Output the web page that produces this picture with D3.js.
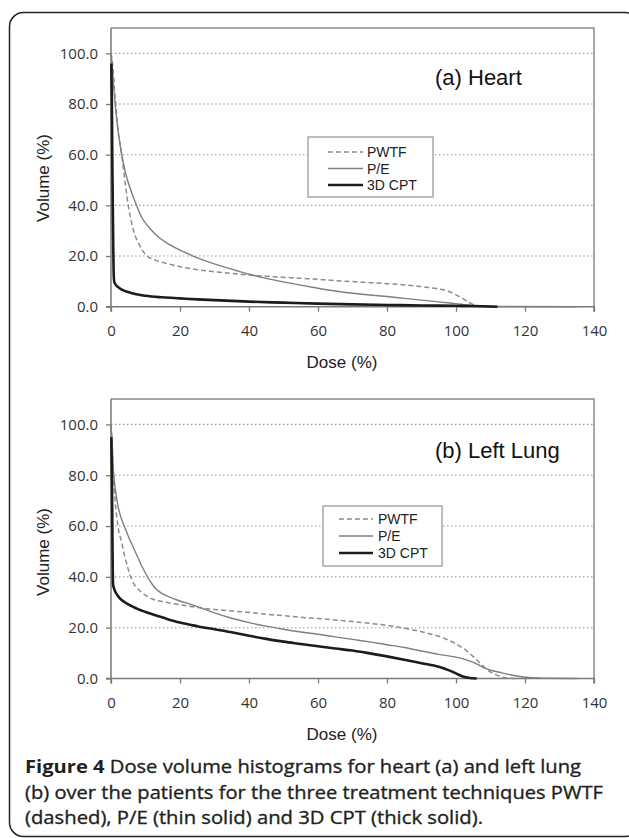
<!DOCTYPE html>
<html>
<head>
<meta charset="utf-8">
<script src="https://cdn.jsdelivr.net/npm/d3@7"></script>
<style>
  html, body { margin: 0; padding: 0; background: #fff; }
  svg { display: block; }
</style>
</head>
<body>
<svg id="chart" width="629" height="838"></svg>
<script>
// ---------------- DATA ----------------
const seriesNames = ["PWTF", "P/E", "3D CPT"];
const doseTicks = [0, 20, 40, 60, 80, 100, 120, 140];
const volumeTicks = [0, 20, 40, 60, 80, 100];
const panelTitles = ["(a) Heart", "(b) Left Lung"];

// [dose %, volume %]
const heartPWTF = [[0,100],[0.5,95],[1,86],[1.5,78],[2,70],[3,61],[4,50],[5,40],[6,33],[7,28],[8,25],[9,22.5],[10,20.6],[11,19.5],[13,18.3],[16,17.1],[20,15.8],[25,14.6],[30,13.8],[35,13.1],[40,12.5],[45,12],[50,11.6],[55,11.2],[60,10.8],[65,10.3],[70,9.9],[75,9.5],[80,9.1],[85,8.6],[90,7.9],[95,7.0],[98,6.0],[100,4.7],[102,3.2],[104,1.5],[106,0.4],[108,0.1],[110,0]];
const heartPE = [[0,100],[0.3,96],[0.7,88],[1.2,80],[2,70],[3,61],[4,54],[5,49],[6,45],[7.4,40],[9,35],[10.3,32.5],[12,29.8],[14.2,27],[17,24.5],[20,22.3],[23.8,20],[28,17.8],[32,16],[36,14.4],[40,12.8],[45,11.2],[50,9.8],[55,8.5],[60,7.3],[65,6.2],[70,5.3],[75,4.6],[80,4],[85,3.3],[90,2.6],[95,1.9],[100,1.2],[103,0.7],[106,0.3],[110,0.1],[135,0]];
const heart3DCPT = [[0.1,96],[0.25,80],[0.4,55],[0.6,30],[0.8,12],[1,9.5],[2,7.8],[3,6.8],[5,5.8],[7,5],[10,4.3],[15,3.7],[20,3.3],[25,2.9],[30,2.6],[40,2.0],[50,1.6],[60,1.2],[70,0.9],[80,0.7],[90,0.5],[100,0.35],[105,0.25],[110,0.05],[112,0]];

const lungPWTF = [[0,100],[0.3,93],[0.7,80],[1.2,70],[2,60],[3,54],[4,48],[5,43],[6,39],[7,36.5],[8,35],[9,33.8],[10,32.8],[12,31.3],[15,30.2],[18,29.5],[22,28.6],[26,27.8],[30,27.2],[35,26.6],[40,26],[45,25.3],[50,24.7],[55,24.1],[60,23.6],[65,23],[70,22.4],[75,21.7],[80,20.9],[85,19.8],[90,18.4],[95,16.6],[98,15],[100,13.6],[103,11],[105,8.6],[107,6],[109,3.5],[111,1.8],[113,0.7],[115,0.2],[118,0]];
const lungPE = [[0,100],[0.3,93],[0.7,82],[1.2,75],[2,68],[3,63],[4,59.5],[5,56],[6,53],[7,50],[8,47],[9,44],[10,41.5],[11,39],[12,37],[13,35.3],[15,33.3],[17,32],[20,30.5],[24,28.8],[27,27.3],[30,25.8],[35,23.7],[40,22],[45,20.6],[50,19.4],[55,18.3],[60,17.4],[65,16.4],[70,15.4],[75,14.4],[80,13.3],[85,12.2],[90,10.8],[95,9.5],[100,8.4],[103,7.3],[106,5.8],[108,4.3],[110,3.3],[113,2.3],[116,1.4],[119,0.7],[122,0.3],[125,0.1],[135,0]];
const lung3DCPT = [[0.1,95],[0.3,75],[0.45,50],[0.6,37],[1,35],[2,32.5],[4,30],[6,28.5],[8,27.2],[10,26.2],[15,24],[20,22],[25,20.6],[30,19.4],[35,18.2],[40,16.8],[45,15.6],[50,14.5],[55,13.6],[60,12.7],[65,11.8],[70,11],[75,9.9],[80,8.7],[85,7.4],[90,6],[95,4.6],[98,3.2],[100,2],[102,0.8],[104,0.2],[106,0]];

const captionBold = "Figure 4";
const captionLines = [
  " Dose volume histograms for heart (a) and left lung",
  "(b) over the patients for the three treatment techniques PWTF",
  "(dashed), P/E (thin solid) and 3D CPT (thick solid)."
];
const captionWidths = [556, 578, 458];

// ---------------- STYLE ----------------
const seriesStyle = [
  { stroke: "#8c8c8c", width: 1.5, dash: "5,3" },
  { stroke: "#7f7f7f", width: 1.4, dash: null },
  { stroke: "#1c1c1c", width: 2.6, dash: null }
];

const svg = d3.select("#chart");

// outer rounded frame
svg.append("rect")
  .attr("x", 9.5).attr("y", 12.5)
  .attr("width", 630).attr("height", 824)
  .attr("rx", 14).attr("ry", 14)
  .attr("fill", "none").attr("stroke", "#222").attr("stroke-width", 1.5);

const panels = [
  { top: 28, bottom: 306.7, series: [heartPWTF, heartPE, heart3DCPT], title: panelTitles[0], titleY: 85,
    legend: { x: 308, y: 137, w: 125, h: 60, sx0: 328, sx1: 363, tx: 367, rows: [157, 173.5, 190] },
    yLabelY: 178 },
  { top: 399, bottom: 678.5, series: [lungPWTF, lungPE, lung3DCPT], title: panelTitles[1], titleY: 458,
    legend: { x: 323, y: 506, w: 119, h: 60, sx0: 339, sx1: 373, tx: 378, rows: [524, 541, 558] },
    yLabelY: 552 }
];

const left = 111, right = 594;

panels.forEach(p => {
  const x = d3.scaleLinear().domain([0, 140]).range([left, right]);
  const y = d3.scaleLinear().domain([0, 110]).range([p.bottom, p.top]);
  const g = svg.append("g");

  // gridlines
  g.selectAll(".grid").data(volumeTicks.filter(v => v > 0)).enter().append("line")
    .attr("x1", left).attr("x2", right)
    .attr("y1", d => y(d)).attr("y2", d => y(d))
    .attr("stroke", "#9a9a9a").attr("stroke-width", 1.1)
    .attr("stroke-dasharray", "1.5,2.5");

  // plot frame (top & right)
  g.append("path")
    .attr("d", `M${left},${p.top}H${right}V${p.bottom}`)
    .attr("fill", "none").attr("stroke", "#8a8a8a").attr("stroke-width", 1.5);

  // axes
  const yAxis = d3.axisLeft(y).tickValues(volumeTicks).tickFormat(d3.format(".1f")).tickSize(5).tickPadding(8);
  const gy = g.append("g").attr("transform", `translate(${left},0)`).call(yAxis);
  const xAxis = d3.axisBottom(x).tickValues(doseTicks).tickFormat(d3.format("d")).tickSize(5).tickPadding(14);
  const gx = g.append("g").attr("transform", `translate(0,${p.bottom})`).call(xAxis);
  [gx, gy].forEach(a => {
    a.select(".domain").attr("stroke", "#7a7a7a").attr("stroke-width", 1.5);
    a.selectAll(".tick line").attr("stroke", "#7a7a7a").attr("stroke-width", 1.3);
    a.selectAll(".tick text").attr("fill", "#333").style("font-family", "'Open Sans', sans-serif").style("font-size", "15px");
  });
  gy.select(".domain").attr("d", `M-5,${p.bottom}H0V${p.top}`);
  gx.select(".domain").attr("d", `M${left},5V0H${right}V5`);

  // series
  const line = d3.line().x(d => x(d[0])).y(d => y(d[1])).curve(d3.curveMonotoneX);
  p.series.forEach((s, i) => {
    const st = seriesStyle[i];
    g.append("path").datum(s).attr("d", line)
      .attr("fill", "none").attr("stroke", st.stroke).attr("stroke-width", st.width)
      .attr("stroke-dasharray", st.dash).attr("stroke-linejoin", "round");
  });

  // axis titles
  g.append("text").attr("x", 342).attr("y", p.bottom + 61)
    .attr("text-anchor", "middle").attr("fill", "#222")
    .style("font-family", "'Liberation Sans', Arial, sans-serif").style("font-size", "17px")
    .text("Dose (%)");
  g.append("text").attr("transform", `translate(49,${p.yLabelY}) rotate(-90)`)
    .attr("text-anchor", "middle").attr("fill", "#222")
    .style("font-family", "'Liberation Sans', Arial, sans-serif").style("font-size", "17px")
    .text("Volume (%)");

  // panel title
  g.append("text").attr("x", 435).attr("y", p.titleY).attr("fill", "#111")
    .style("font-family", "'Liberation Sans', Arial, sans-serif").style("font-size", "22px")
    .text(p.title);

  // legend
  const L = p.legend;
  g.append("rect").attr("x", L.x).attr("y", L.y).attr("width", L.w).attr("height", L.h)
    .attr("fill", "#fff").attr("stroke", "#a8a8a8").attr("stroke-width", 1.5);
  seriesNames.forEach((n, i) => {
    const st = seriesStyle[i];
    const cy = L.rows[i] - 5;
    g.append("line").attr("x1", L.sx0).attr("x2", L.sx1).attr("y1", cy).attr("y2", cy)
      .attr("stroke", st.stroke).attr("stroke-width", st.width).attr("stroke-dasharray", st.dash);
    g.append("text").attr("x", L.tx).attr("y", L.rows[i]).attr("fill", "#222")
      .style("font-family", "'Liberation Sans', Arial, sans-serif").style("font-size", "14px")
      .text(n);
  });
});

// caption
const capY = [773, 798.5, 824];
const cap = svg.append("g")
  .style("font-family", "'Open Sans', sans-serif").style("font-size", "18.5px")
  .attr("fill", "#231f20");
const t0 = cap.append("text").attr("x", 25).attr("y", capY[0])
  .attr("textLength", captionWidths[0]).attr("lengthAdjust", "spacingAndGlyphs");
t0.append("tspan").style("font-weight", "bold").text(captionBold);
t0.append("tspan").attr("stroke", "#231f20").attr("stroke-width", 0.35).text(captionLines[0]);
for (let i = 1; i < captionLines.length; i++) {
  cap.append("text").attr("x", 25).attr("y", capY[i])
    .attr("textLength", captionWidths[i]).attr("lengthAdjust", "spacingAndGlyphs")
    .attr("stroke", "#231f20").attr("stroke-width", 0.35).text(captionLines[i]);
}
</script>
</body>
</html>
